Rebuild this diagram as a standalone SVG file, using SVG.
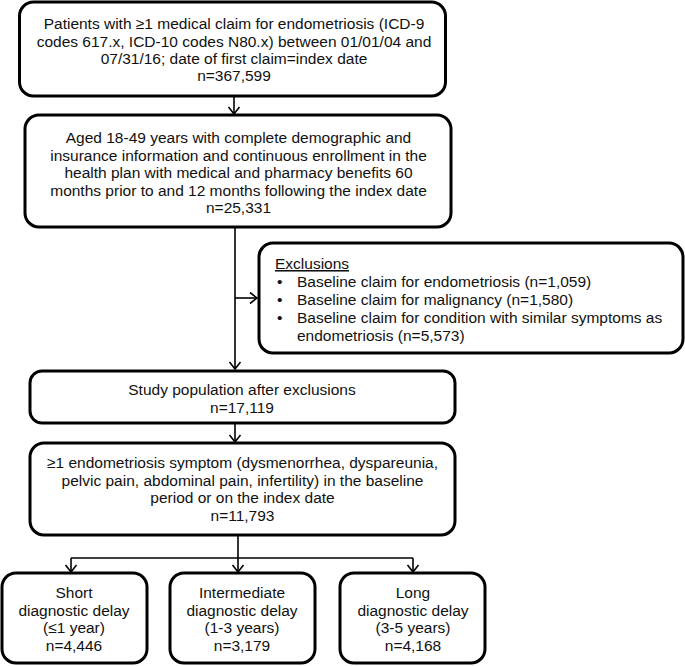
<svg xmlns="http://www.w3.org/2000/svg" width="685" height="666" viewBox="0 0 685 666">
<defs>
<style>
.box{fill:#fff;stroke:#000;stroke-width:3}
.t{font-family:"Liberation Sans",Arial,sans-serif;font-size:15.5px;fill:#111}
.c{text-anchor:middle}
.ln{fill:none;stroke:#000;stroke-width:1.6}
</style>
<marker id="ah" markerUnits="userSpaceOnUse" viewBox="0 0 8 12" refX="7.5" refY="6" markerWidth="8" markerHeight="12" orient="auto" overflow="visible">
<path d="M0.5,0.5 L7.5,6 L0.5,11.5" fill="none" stroke="#000" stroke-width="1.6"/>
</marker>
</defs>
<rect width="685" height="666" fill="#fff"/>
<g id="connectors">
<path class="ln" d="M234,96 V114" marker-end="url(#ah)"/>
<path class="ln" d="M235,227 V369" marker-end="url(#ah)"/>
<path class="ln" d="M235,298 H257" marker-end="url(#ah)"/>
<path class="ln" d="M235,423 V442" marker-end="url(#ah)"/>
<path class="ln" d="M238,535 V572" marker-end="url(#ah)"/>
<path class="ln" d="M71,558 H413"/>
<path class="ln" d="M71,558 V572" marker-end="url(#ah)"/>
<path class="ln" d="M413,558 V572" marker-end="url(#ah)"/>
</g>
<g id="n1">
<rect class="box" x="19.5" y="2" width="426" height="94" rx="14"/>
<text class="t c" x="234" y="29">Patients with ≥1 medical claim for endometriosis (ICD-9</text>
<text class="t c" x="234" y="46.5">codes 617.x, ICD-10 codes N80.x) between 01/01/04 and</text>
<text class="t c" x="234" y="63.5">07/31/16; date of first claim=index date</text>
<text class="t c" x="234" y="80.5">n=367,599</text>
</g>
<g id="n2">
<rect class="box" x="25" y="115" width="426" height="112" rx="14"/>
<text class="t c" x="238.5" y="143">Aged 18-49 years with complete demographic and</text>
<text class="t c" x="238.5" y="160.5">insurance information and continuous enrollment in the</text>
<text class="t c" x="238.5" y="178">health plan with medical and pharmacy benefits 60</text>
<text class="t c" x="238.5" y="195.5">months prior to and 12 months following the index date</text>
<text class="t c" x="238.5" y="213">n=25,331</text>
</g>
<g id="exclusions">
<rect class="box" x="259" y="243" width="424" height="110" rx="14"/>
<text class="t" x="275" y="269" text-decoration="underline">Exclusions</text>
<text class="t" x="277" y="287">•</text>
<text class="t" x="297" y="287">Baseline claim for endometriosis (n=1,059)</text>
<text class="t" x="277" y="305">•</text>
<text class="t" x="297" y="305">Baseline claim for malignancy (n=1,580)</text>
<text class="t" x="277" y="323">•</text>
<text class="t" x="297" y="323">Baseline claim for condition with similar symptoms as</text>
<text class="t" x="297" y="340.5">endometriosis (n=5,573)</text>
</g>
<g id="n3">
<rect class="box" x="30" y="371" width="425" height="52" rx="12"/>
<text class="t c" x="242" y="395">Study population after exclusions</text>
<text class="t c" x="242" y="413">n=17,119</text>
</g>
<g id="n4">
<rect class="box" x="30" y="443" width="425" height="92" rx="14"/>
<text class="t c" x="242.5" y="468">≥1 endometriosis symptom (dysmenorrhea, dyspareunia,</text>
<text class="t c" x="242.5" y="485.5">pelvic pain, abdominal pain, infertility) in the baseline</text>
<text class="t c" x="242.5" y="503">period or on the index date</text>
<text class="t c" x="242.5" y="520.5">n=11,793</text>
</g>
<g id="short">
<rect class="box" x="2" y="573" width="145" height="90" rx="14"/>
<text class="t c" x="74" y="598">Short</text>
<text class="t c" x="74" y="615.5">diagnostic delay</text>
<text class="t c" x="74" y="633">(≤1 year)</text>
<text class="t c" x="74" y="650.5">n=4,446</text>
</g>
<g id="intermediate">
<rect class="box" x="170" y="573" width="145" height="90" rx="14"/>
<text class="t c" x="242" y="598">Intermediate</text>
<text class="t c" x="242" y="615.5">diagnostic delay</text>
<text class="t c" x="242" y="633">(1-3 years)</text>
<text class="t c" x="242" y="650.5">n=3,179</text>
</g>
<g id="long">
<rect class="box" x="340" y="573" width="145" height="90" rx="14"/>
<text class="t c" x="413" y="598">Long</text>
<text class="t c" x="413" y="615.5">diagnostic delay</text>
<text class="t c" x="413" y="633">(3-5 years)</text>
<text class="t c" x="413" y="650.5">n=4,168</text>
</g>
</svg>
